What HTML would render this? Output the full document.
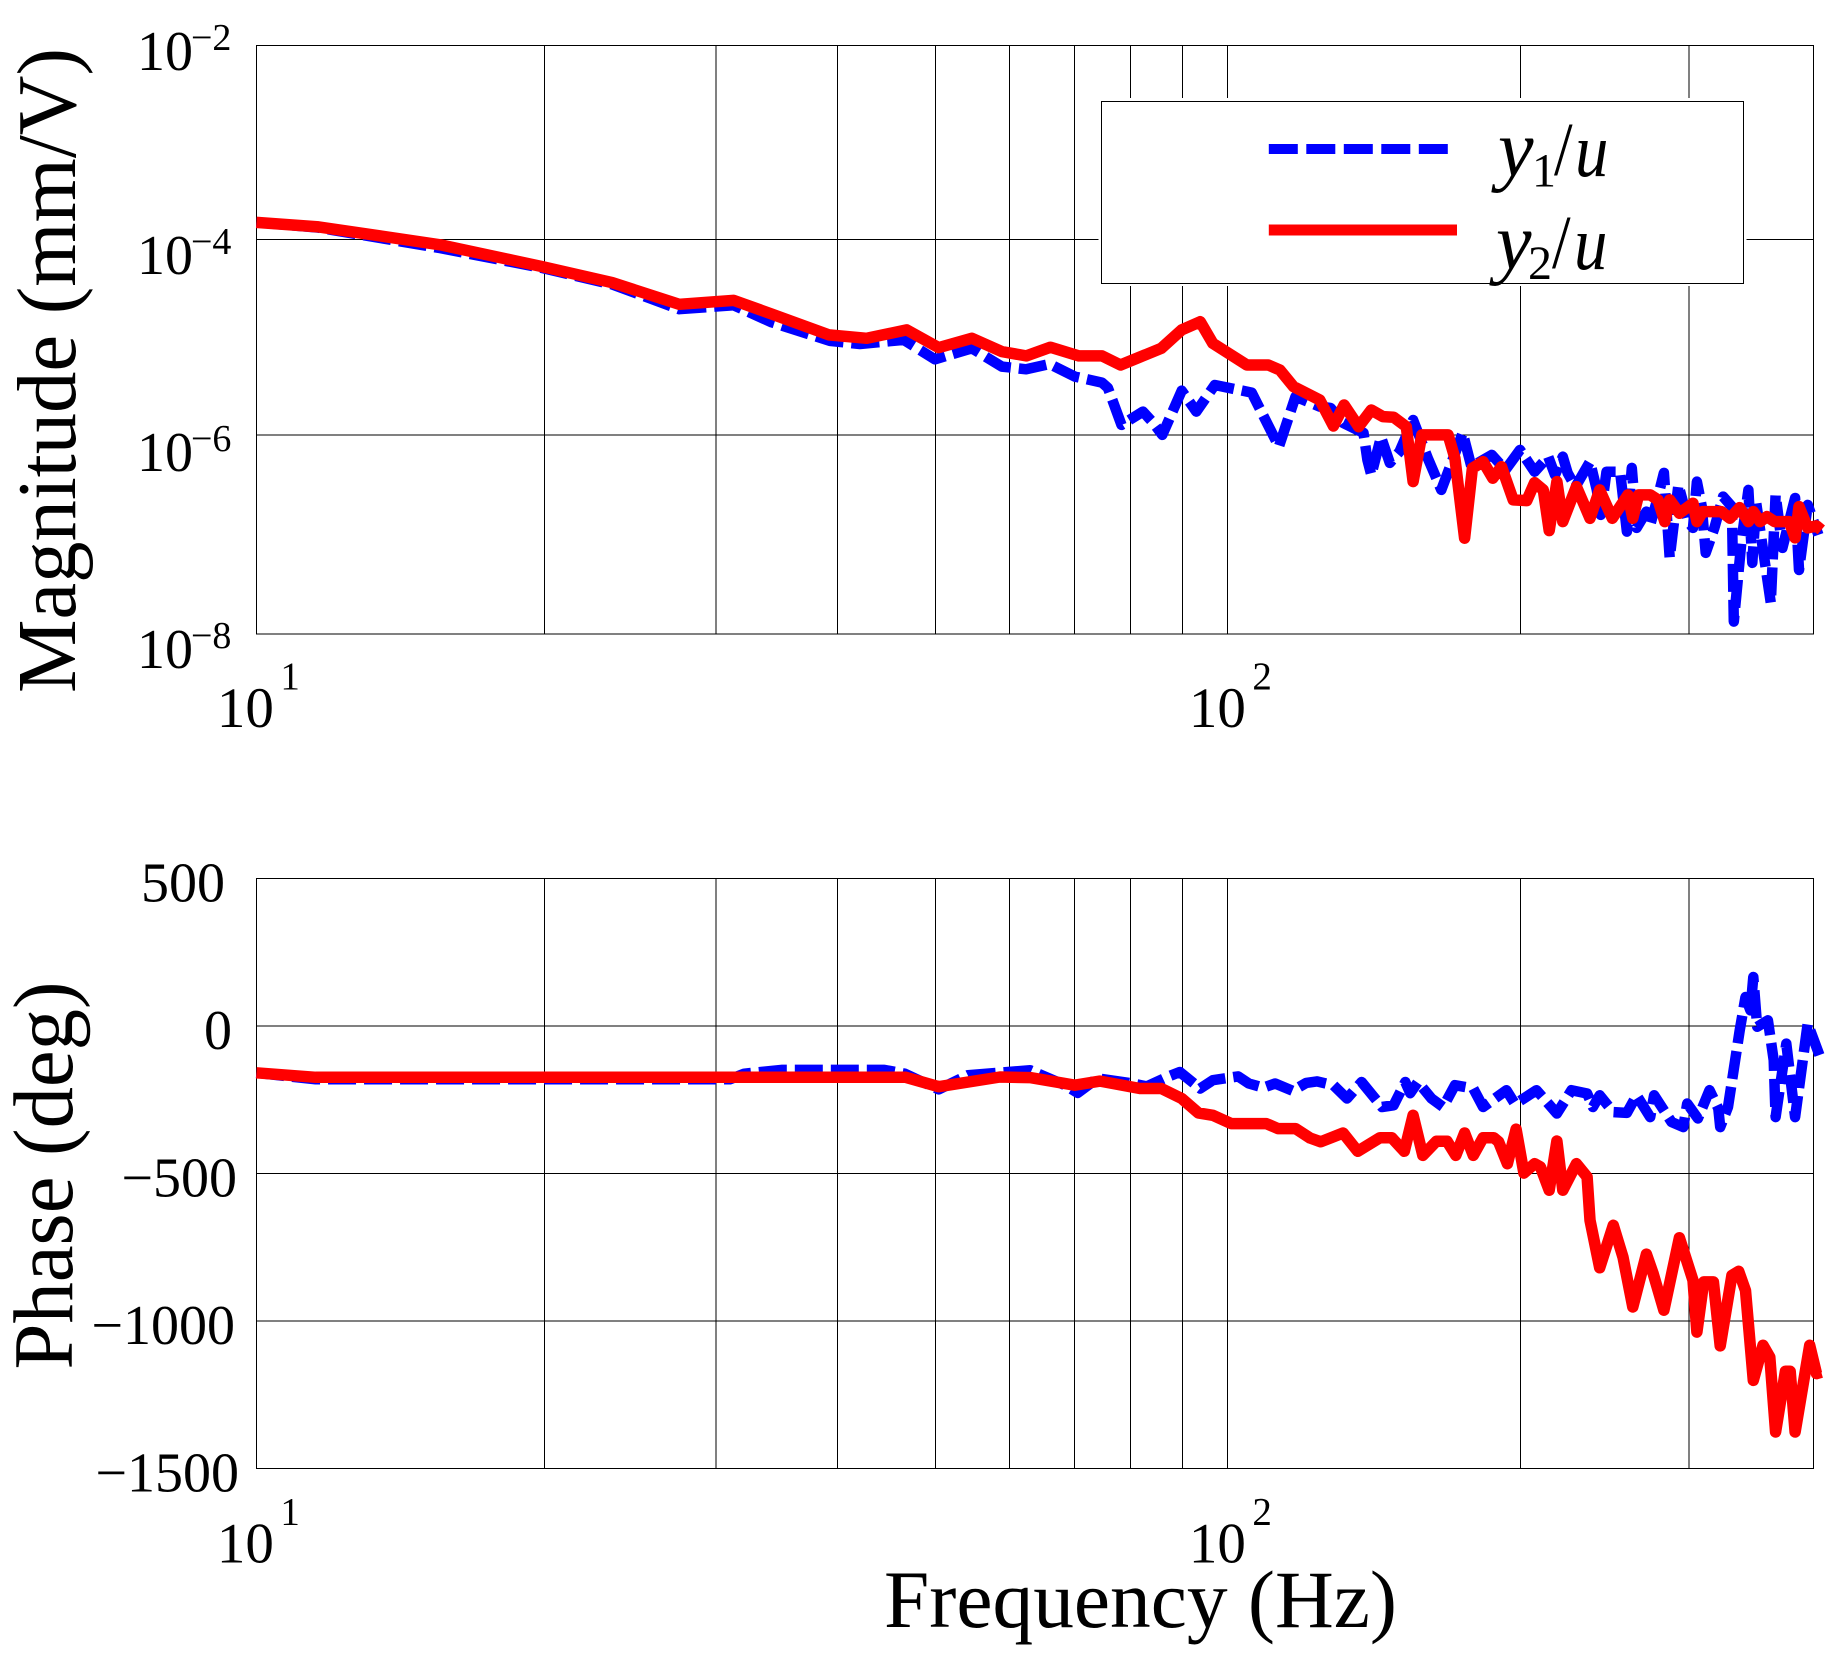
<!DOCTYPE html>
<html lang="en">
<head>
<meta charset="utf-8">
<title>Bode plot of y1/u and y2/u</title>
<style>
html,body{margin:0;padding:0;background:#fff;}
svg{display:block;}
text{font-family:"Liberation Serif","Times New Roman",serif;fill:#000;}
</style>
</head>
<body>
<svg id="chart" xmlns="http://www.w3.org/2000/svg" width="1843" height="1667" viewBox="0 0 1843 1667">
  <rect x="0" y="0" width="1843" height="1667" fill="#fff"/>
  <g id="grid-layer"></g>
  <g id="series-layer"></g>
  <g id="tick-layer"></g>

  <text transform="translate(75,693) rotate(-90)" font-size="84" textLength="645" lengthAdjust="spacingAndGlyphs">Magnitude (mm/V)</text>
  <text transform="translate(72,1369.5) rotate(-90)" font-size="85" textLength="388" lengthAdjust="spacingAndGlyphs">Phase (deg)</text>
  <text x="884" y="1627" font-size="82" textLength="513" lengthAdjust="spacingAndGlyphs">Frequency (Hz)</text>

  <g>
    <rect x="1098.5" y="98" width="648" height="188" fill="#fff"/>
    <rect x="1101.5" y="101.5" width="642" height="182" fill="#fff" stroke="#000" stroke-width="1" shape-rendering="crispEdges"/>
    <line x1="1268.8" y1="149" x2="1448" y2="149" stroke="#0000ff" stroke-width="10" stroke-dasharray="29 8.5"/>
    <line x1="1268.8" y1="230" x2="1457" y2="230" stroke="#ff0000" stroke-width="11"/>
    <g>
      <text x="1498" y="176" font-size="80" font-style="italic">y</text>
      <text x="1532" y="186.5" font-size="48">1</text>
      <text transform="translate(1554,175) scale(.88,1)" font-size="76">/</text>
      <text transform="translate(1575,176) scale(.88,1)" font-size="76" font-style="italic">u</text>
    </g>
    <g>
      <text x="1496" y="269" font-size="80" font-style="italic">y</text>
      <text x="1528" y="279" font-size="48">2</text>
      <text transform="translate(1552,268) scale(.88,1)" font-size="76">/</text>
      <text transform="translate(1574,269) scale(.88,1)" font-size="76" font-style="italic">u</text>
    </g>
  </g>
</svg>

<script>
// ---- Axis data ----
const freqGridHz = [20, 30, 40, 50, 60, 70, 80, 90, 100, 200, 300];
const freqTickDecades = [1, 2];
const magTickExponents = [-2, -4, -6, -8];
const phaseTickValues = [500, 0, -500, -1000, -1500];

// ---- Series data: frequency as log10(Hz), magnitude as log10(mm/V), phase in degrees ----
const magY2Freq = [1.000,1.064,1.189,1.294,1.366,1.435,1.491,1.530,1.589,1.628,1.669,1.702,1.736,1.767,1.792,1.817,1.846,1.870,1.889,1.931,1.952,1.971,1.984,2.019,2.041,2.053,2.067,2.094,2.108,2.119,2.134,2.147,2.159,2.170,2.183,2.190,2.199,2.226,2.233,2.243,2.251,2.262,2.272,2.281,2.293,2.307,2.315,2.324,2.330,2.338,2.344,2.358,2.372,2.382,2.395,2.411,2.416,2.422,2.434,2.442,2.449,2.454,2.464,2.478,2.482,2.488,2.507,2.516,2.526,2.535,2.540,2.547,2.554,2.562,2.577,2.583,2.587,2.596,2.605,2.610];
const magY2 = [-3.804,-3.849,-4.032,-4.254,-4.417,-4.639,-4.599,-4.737,-4.951,-4.985,-4.900,-5.080,-4.985,-5.121,-5.165,-5.076,-5.165,-5.165,-5.257,-5.087,-4.900,-4.816,-5.036,-5.257,-5.257,-5.308,-5.478,-5.614,-5.879,-5.665,-5.886,-5.716,-5.784,-5.790,-5.886,-6.446,-5.970,-5.970,-6.208,-7.023,-6.310,-6.243,-6.412,-6.294,-6.633,-6.640,-6.457,-6.531,-6.946,-6.446,-6.854,-6.497,-6.820,-6.531,-6.820,-6.582,-6.820,-6.582,-6.582,-6.633,-6.854,-6.633,-6.769,-6.667,-6.854,-6.752,-6.752,-6.820,-6.711,-6.854,-6.752,-6.854,-6.803,-6.854,-6.854,-7.020,-6.701,-6.918,-6.898,-6.939];

const magY1Freq = [1.000,1.064,1.189,1.294,1.366,1.435,1.491,1.530,1.590,1.621,1.666,1.698,1.736,1.767,1.792,1.816,1.842,1.870,1.876,1.890,1.912,1.923,1.932,1.952,1.967,1.986,2.024,2.052,2.069,2.094,2.105,2.118,2.139,2.143,2.147,2.157,2.166,2.176,2.190,2.205,2.219,2.241,2.250,2.271,2.285,2.300,2.315,2.329,2.336,2.344,2.349,2.357,2.372,2.379,2.383,2.389,2.403,2.410,2.415,2.420,2.430,2.434,2.442,2.448,2.454,2.463,2.473,2.478,2.482,2.487,2.491,2.500,2.509,2.518,2.520,2.528,2.535,2.539,2.543,2.558,2.563,2.570,2.583,2.587,2.596,2.607];
const magY1 = [-3.804,-3.858,-4.066,-4.268,-4.436,-4.689,-4.649,-4.822,-5.012,-5.043,-5.002,-5.199,-5.087,-5.274,-5.301,-5.247,-5.376,-5.437,-5.491,-5.868,-5.733,-5.851,-5.970,-5.519,-5.733,-5.461,-5.539,-6.090,-5.580,-5.682,-5.695,-5.848,-5.950,-6.225,-6.378,-5.991,-6.256,-6.141,-5.818,-6.205,-6.531,-5.950,-6.294,-6.174,-6.327,-6.123,-6.345,-6.192,-6.378,-6.192,-6.358,-6.500,-6.243,-6.531,-6.786,-6.345,-6.345,-6.956,-6.307,-6.918,-6.752,-6.888,-6.599,-6.358,-7.224,-6.480,-6.854,-6.918,-6.446,-6.701,-7.173,-6.918,-6.599,-6.701,-7.874,-7.041,-6.531,-7.275,-6.664,-7.683,-6.582,-7.122,-6.613,-7.347,-6.684,-6.990];

const phaseY2Freq = [1.000,1.061,1.487,1.668,1.702,1.765,1.796,1.842,1.868,1.909,1.931,1.952,1.969,1.984,2.003,2.039,2.051,2.069,2.084,2.095,2.118,2.133,2.156,2.168,2.181,2.190,2.200,2.214,2.225,2.234,2.243,2.252,2.262,2.273,2.278,2.287,2.296,2.304,2.315,2.321,2.330,2.338,2.344,2.358,2.369,2.372,2.382,2.396,2.406,2.416,2.430,2.437,2.448,2.464,2.478,2.482,2.489,2.499,2.506,2.518,2.525,2.532,2.540,2.550,2.557,2.563,2.573,2.578,2.583,2.598,2.605,2.610];
const phaseY2 = [-159,-174,-174,-174,-206,-173,-175,-201,-187,-212,-212,-246,-295,-303,-331,-331,-348,-348,-380,-393,-363,-425,-379,-379,-425,-303,-439,-391,-391,-439,-363,-439,-379,-379,-393,-467,-350,-499,-467,-478,-557,-390,-557,-467,-512,-659,-820,-676,-784,-953,-774,-840,-964,-718,-863,-1038,-868,-868,-1085,-846,-832,-897,-1202,-1083,-1123,-1377,-1171,-1171,-1377,-1083,-1179,-1174];

const phaseY1Freq = [1.000,1.061,1.487,1.502,1.541,1.646,1.667,1.702,1.732,1.796,1.832,1.845,1.865,1.902,1.916,1.937,1.950,1.971,1.984,2.010,2.021,2.036,2.048,2.066,2.080,2.091,2.108,2.122,2.137,2.158,2.170,2.182,2.187,2.195,2.209,2.221,2.233,2.252,2.262,2.286,2.295,2.317,2.338,2.353,2.369,2.375,2.382,2.396,2.410,2.420,2.434,2.438,2.456,2.468,2.472,2.483,2.495,2.504,2.506,2.514,2.526,2.532,2.537,2.540,2.544,2.555,2.561,2.563,2.574,2.583,2.596,2.608];
const phaseY1 = [-159,-181,-181,-162,-149,-149,-162,-215,-167,-150,-201,-227,-178,-195,-205,-173,-156,-212,-184,-171,-195,-209,-195,-220,-193,-188,-201,-246,-190,-275,-269,-190,-228,-190,-246,-275,-201,-212,-275,-218,-265,-218,-297,-218,-229,-275,-235,-292,-295,-235,-309,-235,-326,-343,-263,-314,-218,-280,-343,-275,-15,98,53,166,-3,19,-116,-309,-60,-309,8,-99];

// ---- Layout ----
const NS = 'http://www.w3.org/2000/svg';
const plotLeft = 256.4, plotDecade = 972, plotRight = 1813.7;
const magTop = 45.5, magBottom = 634;
const phaseTop = 878.5, phaseBottom = 1468.3;
const magLabelDy = [24.5, 32.3, 33, 34];
const phaseLabelRight = [225, 232, 237, 235, 239];
// Small drawing offsets of the printed grid relative to an ideal log/linear scale.
const gridDrawOffsetX = [-4.4, -4, -4.2, -0.4, -3.4, -3.5, -3.9, -1.6, -1, -0.6, -3.4];
const magGridDrawOffsetY = [-2.4, -2.6];

function xFromLog(logHz) { return plotLeft + (logHz - 1) * plotDecade; }
function xFromHz(hz) { return xFromLog(Math.log10(hz)); }
function yMag(exponent) { return magTop + (-2 - exponent) * (magBottom - magTop) / 6; }
function yPhase(deg) { return phaseTop + (500 - deg) * (phaseBottom - phaseTop) / 2000; }

const gridLayer = document.getElementById('grid-layer');
const seriesLayer = document.getElementById('series-layer');
const tickLayer = document.getElementById('tick-layer');

function gridLine(x1, y1, x2, y2) {
  const el = document.createElementNS(NS, 'line');
  el.setAttribute('x1', x1);
  el.setAttribute('y1', y1);
  el.setAttribute('x2', x2);
  el.setAttribute('y2', y2);
  el.setAttribute('stroke', '#000');
  el.setAttribute('stroke-width', '1');
  el.setAttribute('shape-rendering', 'crispEdges');
  
  
  gridLayer.appendChild(el);
}

function frame(top, bottom) {
  const el = document.createElementNS(NS, 'rect');
  el.setAttribute('x', plotLeft);
  el.setAttribute('y', top);
  el.setAttribute('width', plotRight - plotLeft);
  el.setAttribute('height', bottom - top);
  el.setAttribute('fill', 'none');
  el.setAttribute('stroke', '#000');
  el.setAttribute('stroke-width', '1');
  el.setAttribute('shape-rendering', 'crispEdges');
  
  
  gridLayer.appendChild(el);
}

function label(str, x, y, size, anchor) {
  const el = document.createElementNS(NS, 'text');
  el.setAttribute('x', x);
  el.setAttribute('y', y);
  el.setAttribute('font-size', size);
  el.setAttribute('text-anchor', anchor);
  el.textContent = str;
  
  
  tickLayer.appendChild(el);
}

function series(freqs, values, yFn, color, width, dash, name) {
  const el = document.createElementNS(NS, 'polyline');
  el.setAttribute('points', freqs.map((f, i) => xFromLog(f).toFixed(1) + ',' + yFn(values[i]).toFixed(1)).join(' '));
  el.setAttribute('fill', 'none');
  el.setAttribute('stroke', color);
  el.setAttribute('stroke-width', width);
  el.setAttribute('stroke-linejoin', 'round');
  if (dash) el.setAttribute('stroke-dasharray', dash);
  
  
  seriesLayer.appendChild(el);
}

// Grid and frames
frame(magTop, magBottom);
frame(phaseTop, phaseBottom);
freqGridHz.forEach((hz, i) => {
  const gx = xFromHz(hz) + gridDrawOffsetX[i];
  gridLine(gx, magTop, gx, magBottom);
  gridLine(gx, phaseTop, gx, phaseBottom);
});
magTickExponents.slice(1, 3).forEach((e, i) => {
  const gy = yMag(e) + magGridDrawOffsetY[i];
  gridLine(plotLeft, gy, plotRight, gy);
});
phaseTickValues.slice(1, 4).forEach(v => gridLine(plotLeft, yPhase(v), plotRight, yPhase(v)));

// Tick labels
magTickExponents.forEach((e, i) => {
  const base = yMag(e) + magLabelDy[i];
  label('10', 137, base, 56, 'start');
  label('\u2212' + Math.abs(e), 191, base - 20, 38, 'start');
});
phaseTickValues.forEach((v, i) => {
  const text = (v < 0 ? '\u2212' : '') + Math.abs(v);
  label(text, phaseLabelRight[i], yPhase(v) + 23, 56, 'end');
});
freqTickDecades.forEach(d => {
  const x = xFromLog(d);
  label('10', x - 39.5, magBottom + 93, 57, 'start');
  label(String(d), x + 24, magBottom + 55, 39, 'start');
  label('10', x - 39.5, phaseBottom + 94, 57, 'start');
  label(String(d), x + 24, phaseBottom + 56, 39, 'start');
});

// Series: blue dashed below, red solid above
series(magY1Freq, magY1, yMag, '#0000ff', 10.5, '28 8', 'magnitude-y1-line');
series(phaseY1Freq, phaseY1, yPhase, '#0000ff', 10.5, '28 8', 'phase-y1-line');
series(magY2Freq, magY2, yMag, '#ff0000', 11.5, null, 'magnitude-y2-line');
series(phaseY2Freq, phaseY2, yPhase, '#ff0000', 11.5, null, 'phase-y2-line');
</script>
</body>
</html>
